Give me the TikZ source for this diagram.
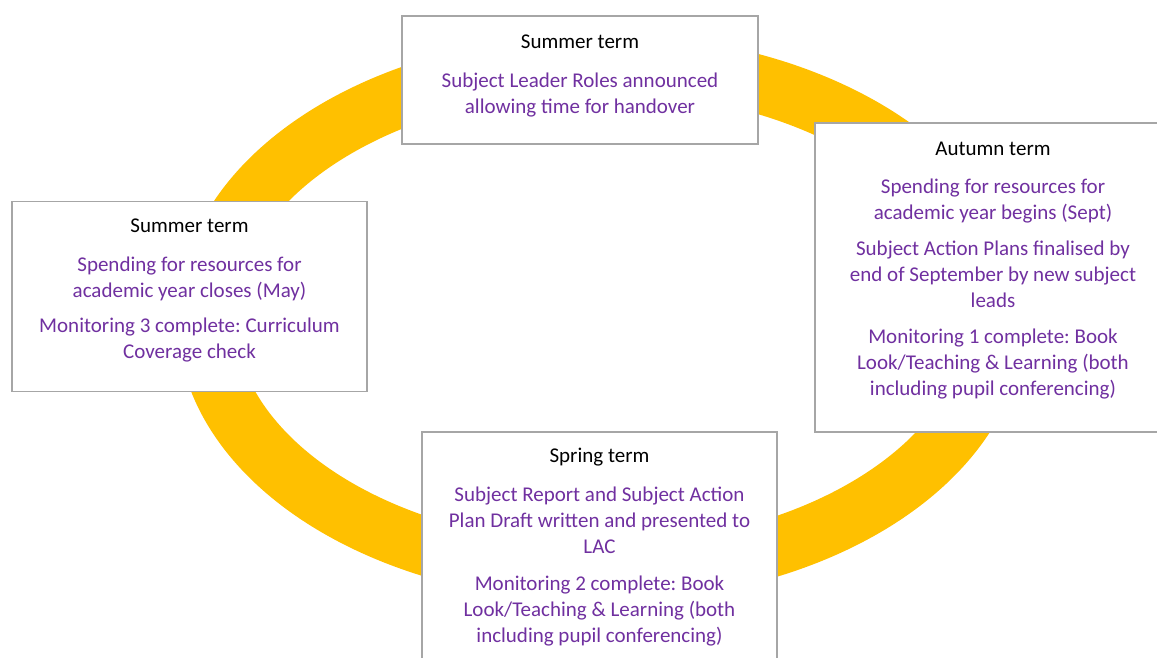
\documentclass[tikz,border=0pt]{standalone}
\usepackage{fontspec}
\setmainfont{Carlito}
\frenchspacing
\definecolor{ringcol}{HTML}{FFC000}
\definecolor{boxgray}{HTML}{A6A6A6}
\definecolor{txtpurple}{HTML}{7030A0}
\tikzset{
  boxst/.style={draw=boxgray, line width=1.5pt, fill=white, rectangle, inner sep=0pt},
  head/.style={anchor=base, font=\fontsize{21}{26}\selectfont\frenchspacing, text=black, inner sep=0pt},
  body/.style={head, text=txtpurple},
  ringst/.style={draw=ringcol, line width=58pt},
}
\begin{document}
\begin{tikzpicture}[x=1pt,y=-1pt]
\useasboundingbox (0,0) rectangle (1157,657);
\clip (0,0) rectangle (1157,657);
\fill[white] (0,0) rectangle (1157,657);
% ring
\draw[ringst] (601,318) ellipse [x radius=395, y radius=255];
% boxes
\node[boxst, minimum width=356pt, minimum height=128pt] (top) at (580,80) {};
\node[boxst, minimum width=356pt, minimum height=309pt] (aut) at (993,277.5) {};
\node[boxst, minimum width=355pt, minimum height=190pt] (lft) at (189.5,296.5) {};
\node[boxst, minimum width=355pt, minimum height=268pt] (spr) at (599.5,566) {};
% top box text
\node[head] (top-h) at (580,48) {Summer term};
\foreach \y/\t [count=\i] in {87/{Subject Leader Roles announced},113/{allowing time for handover}}
  \node[body] (top-\i) at (580,\y) {\t};
% autumn box text
\node[head] (aut-h) at (993,155) {Autumn term};
\foreach \y/\t [count=\i] in {193.3/{Spending for resources for},219.3/{academic year begins (Sept)},255.7/{Subject Action Plans finalised by},281.7/{end of September by new subject},307.7/{leads},343.3/{Monitoring 1 complete: Book},369.3/{Look/Teaching \& Learning (both},395.3/{including pupil conferencing)}}
  \node[body] (aut-\i) at (993,\y) {\t};
% left box text
\node[head] (lft-h) at (189.5,232.3) {Summer term};
\foreach \y/\t [count=\i] in {271.7/{Spending for resources for},297.7/{academic year closes (May)},332.3/{Monitoring 3 complete: Curriculum},358.3/{Coverage check}}
  \node[body] (lft-\i) at (189.5,\y) {\t};
% spring box text
\node[head] (spr-h) at (599.5,462.7) {Spring term};
\foreach \y/\t [count=\i] in {501.7/{Subject Report and Subject Action},527.7/{Plan Draft written and presented to},553.7/{LAC},590/{Monitoring 2 complete: Book},616/{Look/Teaching \& Learning (both},642/{including pupil conferencing)}}
  \node[body] (spr-\i) at (599.5,\y) {\t};
\end{tikzpicture}
\end{document}
